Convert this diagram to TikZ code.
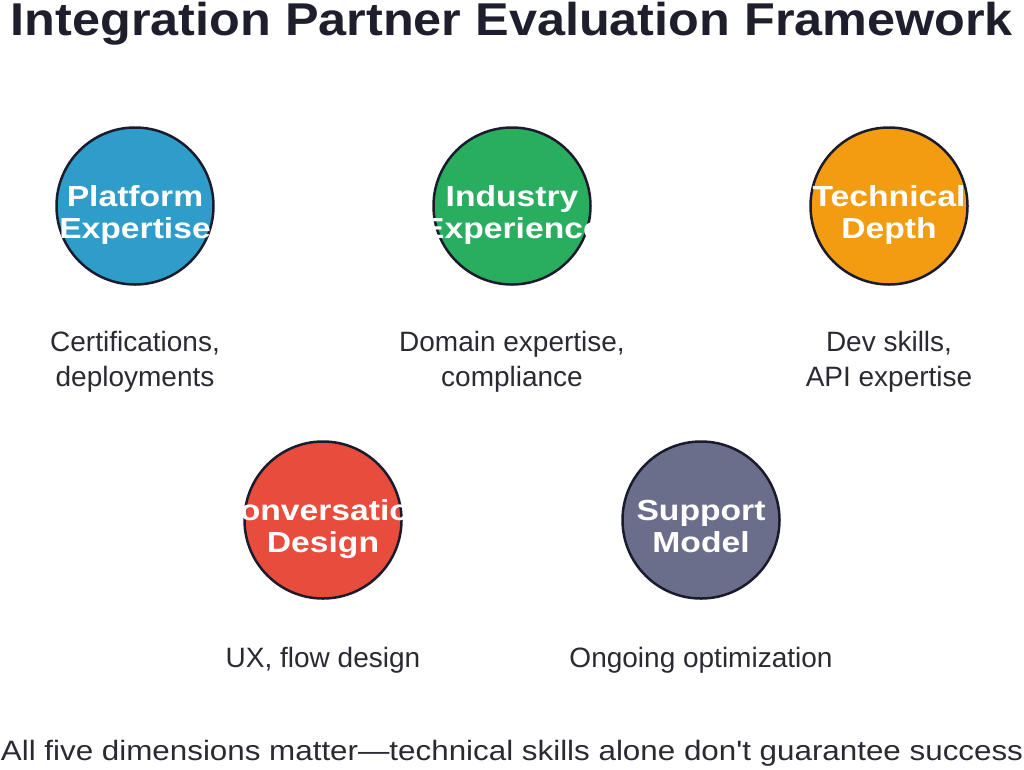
\documentclass[tikz,border=0pt]{standalone}
\usepackage{fontspec}
\setmainfont{Liberation Sans}
\newfontfamily\widefont[FakeStretch=1.095]{Liberation Sans}
\newfontfamily\footfont[FakeStretch=1.12]{Liberation Sans}
\newfontfamily\circfont[FakeStretch=1.16]{Liberation Sans}
\definecolor{rim}{HTML}{1B1B2E}
\definecolor{ink}{HTML}{2A2A33}
\definecolor{headink}{HTML}{1E1E2D}
\definecolor{cblue}{HTML}{2E9DC9}
\definecolor{cgreen}{HTML}{29AE5F}
\definecolor{corange}{HTML}{F39C12}
\definecolor{cred}{HTML}{E74C3C}
\definecolor{cslate}{HTML}{6A6E8B}
\begin{document}
\begin{tikzpicture}[
    x=1pt, y=-1pt,
    dim/.style={circle, draw=rim, line width=2.5pt, minimum size=157pt, inner sep=0pt},
    dimtext/.style={text=white, align=center, inner sep=0pt, anchor=base, font=\circfont\bfseries\fontsize{29}{32}\selectfont},
    desc/.style={text=ink, align=center, inner sep=0pt, anchor=base, font=\fontsize{28}{35}\selectfont}
    ]
	\useasboundingbox (0,0) rectangle (1024,769);
	\node [anchor=base, inner sep=0pt, text=headink, font=\widefont\bfseries\fontsize{46}{50}\selectfont] (title) at (512,35) {Integration Partner Evaluation Framework};
	% five dimensions
	\node [dim, fill=cblue] (platform) at (135,206) {};
	\node [dim, fill=cgreen] (industry) at (512,206) {};
	\node [dim, fill=corange] (technical) at (889,206) {};
	\node [dim, fill=cred] (conversation) at (323,520) {};
	\node [dim, fill=cslate] (support) at (701,520) {};
	% base of a two-line node is its last line
	\node [dimtext] (platformtext) at (135,238) {Platform\\Expertise};
	\node [dimtext] (industrytext) at (512,238) {Industry\\Experience};
	\node [dimtext] (technicaltext) at (889,238) {Technical\\Depth};
	\node [dimtext] (conversationtext) at (323,552) {Conversation\\Design};
	\node [dimtext] (supporttext) at (701,552) {Support\\Model};
	% what each one covers
	\node [desc] (platformdesc) at (135,386) {Certifications,\\deployments};
	\node [desc] (industrydesc) at (512,386) {Domain expertise,\\compliance};
	\node [desc] (technicaldesc) at (889,386) {Dev skills,\\API expertise};
	\node [desc] (conversationdesc) at (323,667) {UX, flow design};
	\node [desc] (supportdesc) at (701,667) {Ongoing optimization};
	\node [anchor=base, inner sep=0pt, text=ink, font=\footfont\fontsize{28}{32}\selectfont] (footer) at (512,760) {All five dimensions matter—technical skills alone don't guarantee success};
\end{tikzpicture}
\end{document}
